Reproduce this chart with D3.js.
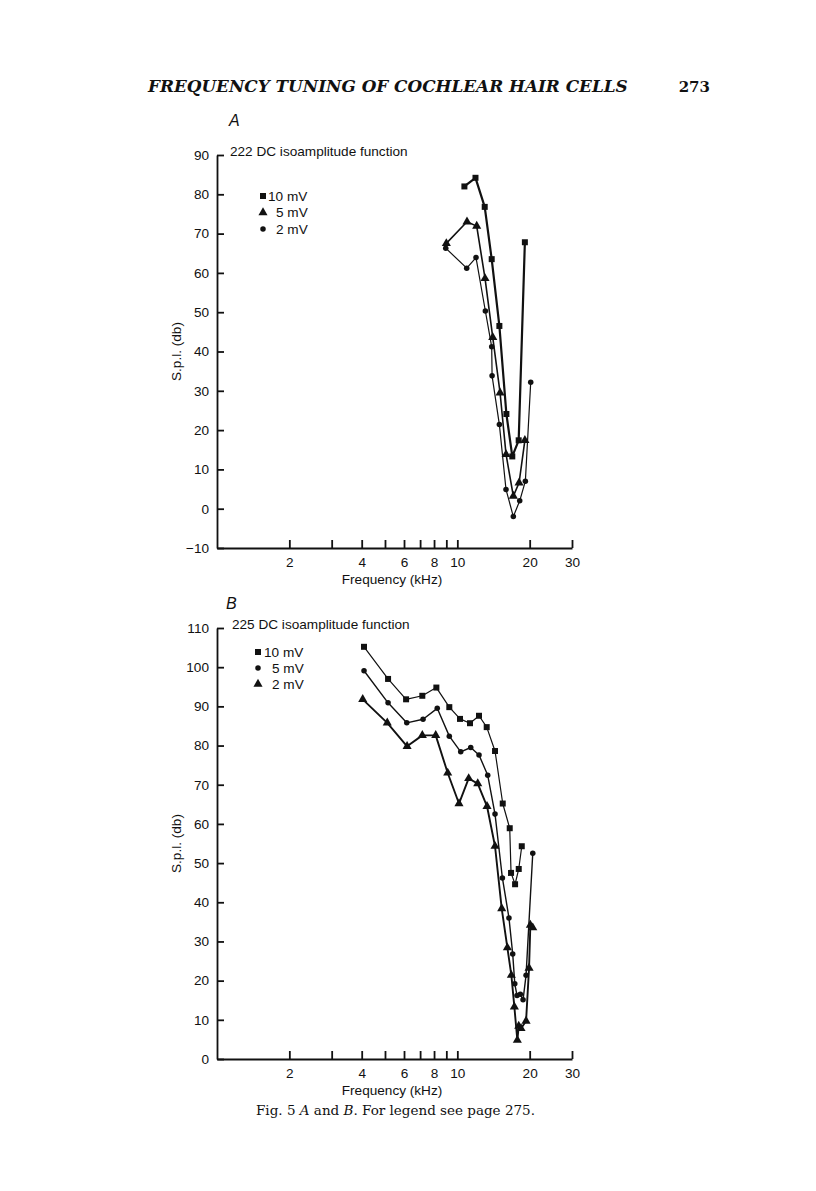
<!DOCTYPE html>
<html><head><meta charset="utf-8">
<script src="https://cdn.jsdelivr.net/npm/d3@7"></script>
<style>body{margin:0;background:#fff}svg{display:block}</style>
</head><body>
<script>
// ---------- data ----------
const xTickValues = [2,3,4,5,6,7,8,9,10,20,30];
const xTickLabels = [2,4,6,8,10,20,30];
const yTicksA = [-10,0,10,20,30,40,50,60,70,80,90];
const yTicksB = [0,10,20,30,40,50,60,70,80,90,100,110];

// Panel A (222 DC)
const a10mV = [[10.7,82.0],[11.9,84.2],[13.0,76.8],[13.9,63.5],[14.96,46.5],[16.0,24.1],[16.93,13.3],[18.0,17.4],[19.1,67.8]];
const a5mV  = [[9.0,67.5],[10.97,73.0],[12.04,71.9],[13.04,58.6],[14.04,43.6],[15.06,29.5],[15.95,13.8],[17.1,3.2],[18.07,6.6],[19.1,17.4]];
const a2mV  = [[8.95,66.3],[10.94,61.2],[11.96,63.9],[13.08,50.3],[13.9,41.2],[13.95,33.8],[14.96,21.4],[15.94,4.9],[17.1,-2.0],[18.18,2.0],[19.19,7.0],[20.2,32.2]];

// Panel B (225 DC)
const b10mV = [[4.09,105.2],[5.15,97.0],[6.12,91.8],[7.15,92.7],[8.18,94.8],[9.26,89.8],[10.26,86.8],[11.29,85.7],[12.31,87.6],[13.25,84.7],[14.35,78.6],[15.45,65.2],[16.52,58.9],[16.73,47.5],[17.39,44.6],[18.01,48.5],[18.54,54.3]];
const b5mV  = [[4.09,99.1],[5.15,90.9],[6.16,85.8],[7.2,86.7],[8.25,89.5],[9.26,82.4],[10.33,78.4],[11.37,79.5],[12.31,77.6],[13.38,72.4],[14.35,62.5],[15.4,46.2],[16.4,36.0],[17.0,26.8],[17.34,19.2],[17.72,16.2],[18.29,16.5],[18.77,15.1],[19.32,21.4],[20.6,52.5]];
const b2mV  = [[4.04,91.8],[5.11,85.8],[6.18,79.8],[7.15,82.6],[8.13,82.6],[9.12,73.0],[10.16,65.2],[11.15,71.6],[12.16,70.3],[13.29,64.5],[14.35,54.3],[15.3,38.4],[16.15,28.4],[16.78,21.4],[17.27,13.3],[17.77,4.8],[18.01,8.4],[18.41,7.8],[19.32,9.7],[19.88,23.2],[20.13,34.2],[20.6,33.5]];

// ---------- drawing ----------
const W = 816, H = 1191;
const svg = d3.select("body").append("svg").attr("width", W).attr("height", H);
const ink = "#111";
const sans = "'Liberation Sans', Arial, Helvetica, sans-serif";
const serif = "'DejaVu Serif', 'Liberation Serif', serif";
const fs = 13.6;

function fitText(sel, targetW) {
  const w = sel.node().getComputedTextLength();
  const f = parseFloat(sel.attr("font-size"));
  sel.attr("font-size", f * targetW / w);
}

// Header
const title = svg.append("text").attr("x", 148).attr("y", 92)
  .attr("font-family", serif).attr("font-style", "italic").attr("font-weight", "bold")
  .attr("font-size", 16).attr("fill", ink)
  .text("FREQUENCY TUNING OF COCHLEAR HAIR CELLS");
fitText(title, 480);
svg.append("text").attr("x", 710).attr("y", 92).attr("text-anchor", "end")
  .attr("font-family", serif).attr("font-weight", "bold").attr("font-size", 15).attr("fill", ink).text("273");

const x = d3.scaleLog().domain([1, 30]).range([217, 572]);

const symSquare = d3.symbol().type(d3.symbolSquare).size(36);
const symTri = d3.symbol().type(d3.symbolTriangle).size(36);
const symCircle = d3.symbol().type(d3.symbolCircle).size(24);

function panel(cfg) {
  const y = d3.scaleLinear().domain(cfg.yDomain).range(cfg.yRange);
  const g = svg.append("g");
  const ya = g.append("g").attr("transform", `translate(${x.range()[0]},0)`)
    .call(d3.axisLeft(y).tickValues(cfg.yTicks).tickSize(-7).tickSizeOuter(0).tickPadding(8));
  const xa = g.append("g").attr("transform", `translate(0,${cfg.yRange[0]})`)
    .call(d3.axisBottom(x).tickValues(xTickValues).tickSize(-8).tickSizeOuter(0).tickPadding(9)
      .tickFormat(d => xTickLabels.includes(d) ? d : ""));
  [ya, xa].forEach(a => {
    a.selectAll("path,line").attr("stroke", ink).attr("stroke-width", 1.8);
    a.selectAll("text").attr("font-family", sans).attr("font-size", fs).attr("fill", ink);
  });
  g.append("text").attr("x", 392).attr("y", cfg.yRange[0] + 36).attr("text-anchor", "middle")
    .attr("font-family", sans).attr("font-size", fs).attr("fill", ink).text("Frequency (kHz)");
  const ymid = (cfg.yRange[0] + cfg.yRange[1]) / 2;
  g.append("text").attr("transform", `translate(181,${ymid}) rotate(-90)`).attr("text-anchor", "middle")
    .attr("font-family", sans).attr("font-size", fs).attr("fill", ink).text("S.p.l. (db)");
  g.append("text").attr("x", cfg.letterX).attr("y", cfg.letterY).attr("font-family", sans)
    .attr("font-style", "italic").attr("font-size", 16).attr("fill", ink).text(cfg.letter);
  g.append("text").attr("x", cfg.titleX).attr("y", cfg.yRange[1] + 1).attr("font-family", sans)
    .attr("font-size", fs).attr("fill", ink).text(cfg.title);
  const line = d3.line().x(d => x(d[0])).y(d => y(d[1]));
  cfg.series.forEach(s => {
    g.append("path").datum(s.data).attr("d", line).attr("fill", "none")
      .attr("stroke", ink).attr("stroke-width", s.lw).attr("stroke-linejoin", "round");
    g.append("g").selectAll("path").data(s.data).join("path")
      .attr("transform", d => `translate(${x(d[0])},${y(d[1])})`)
      .attr("d", s.sym).attr("fill", ink);
  });
  cfg.legend.forEach((l, i) => {
    const ly = cfg.legY[i];
    g.append("path").attr("transform", `translate(${cfg.legMx},${ly})`).attr("d", l.sym).attr("fill", ink);
    g.append("text").attr("x", cfg.legTx[i]).attr("y", ly + 4.8).attr("font-family", sans)
      .attr("font-size", fs).attr("fill", ink).text(l.label);
  });
}

panel({
  yDomain: [-10, 90], yRange: [548, 155], yTicks: yTicksA,
  letter: "A", letterX: 229, letterY: 126,
  title: "222 DC isoamplitude function", titleX: 230,
  series: [
    {data: a10mV, sym: symSquare, lw: 2.2},
    {data: a5mV, sym: symTri, lw: 1.6},
    {data: a2mV, sym: symCircle, lw: 1.2}
  ],
  legend: [{sym: symSquare, label: "10 mV"}, {sym: symTri, label: "5 mV"}, {sym: symCircle, label: "2 mV"}],
  legMx: 263, legY: [196, 212.5, 229], legTx: [268, 276, 276]
});

panel({
  yDomain: [0, 110], yRange: [1059, 628], yTicks: yTicksB,
  letter: "B", letterX: 226, letterY: 609,
  title: "225 DC isoamplitude function", titleX: 232,
  series: [
    {data: b10mV, sym: symSquare, lw: 1.2},
    {data: b5mV, sym: symCircle, lw: 1.4},
    {data: b2mV, sym: symTri, lw: 1.9}
  ],
  legend: [{sym: symSquare, label: "10 mV"}, {sym: symCircle, label: "5 mV"}, {sym: symTri, label: "2 mV"}],
  legMx: 258, legY: [652, 668, 684], legTx: [264, 272, 272]
});

// Caption
const cap = svg.append("text").attr("x", 256).attr("y", 1115).attr("font-family", serif)
  .attr("font-size", 13).attr("fill", ink);
cap.append("tspan").text("Fig. 5 ");
cap.append("tspan").attr("font-style", "italic").text("A");
cap.append("tspan").text(" and ");
cap.append("tspan").attr("font-style", "italic").text("B");
cap.append("tspan").text(". For legend see page 275.");
fitText(cap, 279);
</script>
</body></html>
